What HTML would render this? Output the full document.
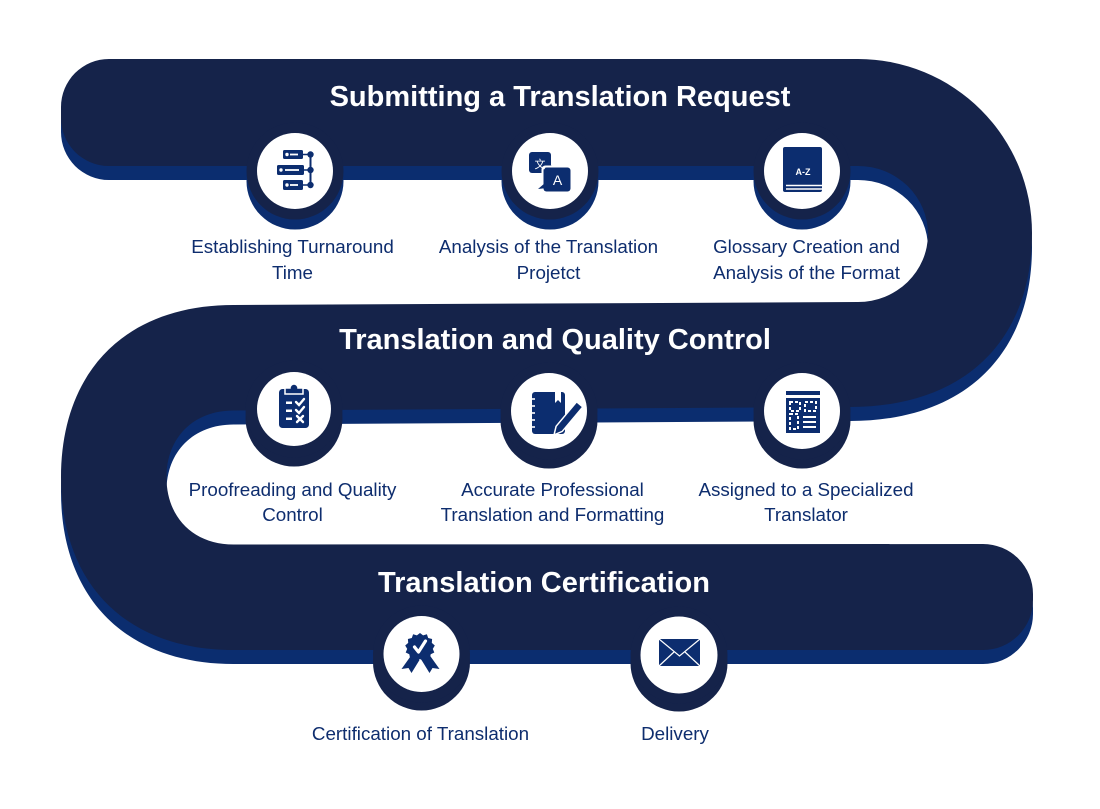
<!DOCTYPE html>
<html>
<head>
<meta charset="utf-8">
<style>
html,body{margin:0;padding:0;background:#fff;}
svg{display:block;}
</style>
</head>
<body>
<svg width="1100" height="809" viewBox="0 0 1100 809" xmlns="http://www.w3.org/2000/svg">
<rect width="1100" height="809" fill="#ffffff"/>

<!-- serpentine band: shadow then main -->
<g>
<path transform="translate(0,14)" fill="#0b2d6f" d="M109 59 L858 59 A174 174 0 0 1 1032 233 C1032 340 965 407 850 407 L233.5 410.5 C193.5 410.5 166.5 437.5 166.5 477.5 C166.5 517.5 193.5 544.5 233.5 544.5 L983 544 A50 50 0 0 1 1033 594 L1033 600 A50 50 0 0 1 983 650 L233.5 650 C126.5 650 61 584.5 61 477.5 C61 370.5 126.5 305 233.5 305 L858 302 A70 68 0 0 0 928 234 A70 68 0 0 0 858 166 L109 166 A48 48 0 0 1 61 118 L61 107 A48 48 0 0 1 109 59 Z"/>
<path fill="#15234a" d="M109 59 L858 59 A174 174 0 0 1 1032 233 C1032 340 965 407 850 407 L233.5 410.5 C193.5 410.5 166.5 437.5 166.5 477.5 C166.5 517.5 193.5 544.5 233.5 544.5 L983 544 A50 50 0 0 1 1033 594 L1033 600 A50 50 0 0 1 983 650 L233.5 650 C126.5 650 61 584.5 61 477.5 C61 370.5 126.5 305 233.5 305 L858 302 A70 68 0 0 0 928 234 A70 68 0 0 0 858 166 L109 166 A48 48 0 0 1 61 118 L61 107 A48 48 0 0 1 109 59 Z"/>
</g>

<!-- Titles -->
<g font-family="Liberation Sans, Arial, sans-serif" font-weight="bold" font-size="29" fill="#ffffff" text-anchor="middle">
<text x="560" y="106">Submitting a Translation Request</text>
<text x="555" y="349">Translation and Quality Control</text>
<text x="544" y="592">Translation Certification</text>
</g>

<!-- Row 1 circles -->
<g>
<circle cx="295" cy="181" r="48.5" fill="#0b2d6f"/>
<circle cx="295" cy="171" r="48.5" fill="#15234a"/>
<circle cx="295" cy="171" r="38" fill="#ffffff"/>
<circle cx="550" cy="181" r="48.5" fill="#0b2d6f"/>
<circle cx="550" cy="171" r="48.5" fill="#15234a"/>
<circle cx="550" cy="171" r="38" fill="#ffffff"/>
<circle cx="802" cy="181" r="48.5" fill="#0b2d6f"/>
<circle cx="802" cy="171" r="48.5" fill="#15234a"/>
<circle cx="802" cy="171" r="38" fill="#ffffff"/>
</g>
<!-- Row 2 circles -->
<g>
<circle cx="294" cy="418" r="48.5" fill="#15234a"/>
<circle cx="294" cy="409" r="48.5" fill="#15234a"/>
<circle cx="294" cy="409" r="37" fill="#ffffff"/>
<circle cx="549" cy="420" r="48.5" fill="#15234a"/>
<circle cx="549" cy="411" r="48.5" fill="#15234a"/>
<circle cx="549" cy="411" r="38" fill="#ffffff"/>
<circle cx="802" cy="420" r="48.5" fill="#15234a"/>
<circle cx="802" cy="411" r="48.5" fill="#15234a"/>
<circle cx="802" cy="411" r="38" fill="#ffffff"/>
</g>
<!-- Row 3 circles -->
<g>
<circle cx="421.5" cy="662" r="48.5" fill="#15234a"/>
<circle cx="421.5" cy="654" r="48.5" fill="#15234a"/>
<circle cx="421.5" cy="654" r="38" fill="#ffffff"/>
<circle cx="679" cy="663" r="48.5" fill="#15234a"/>
<circle cx="679" cy="655" r="48.5" fill="#15234a"/>
<circle cx="679" cy="655" r="38.5" fill="#ffffff"/>
</g>

<!-- Icon 1: server/timeline -->
<g transform="translate(295,171)" fill="#0c2d6f">
<rect x="-12" y="-21" width="20" height="9" rx="1.5"/>
<rect x="-18" y="-6" width="27" height="10" rx="1.5"/>
<rect x="-12" y="9" width="20" height="10" rx="1.5"/>
<line x1="15.5" y1="-16" x2="15.5" y2="14" stroke="#0c2d6f" stroke-width="2"/>
<line x1="8" y1="-16.5" x2="15.5" y2="-16.5" stroke="#0c2d6f" stroke-width="1.5"/>
<line x1="9" y1="-1" x2="15.5" y2="-1" stroke="#0c2d6f" stroke-width="1.5"/>
<line x1="8" y1="14" x2="15.5" y2="14" stroke="#0c2d6f" stroke-width="1.5"/>
<circle cx="15.5" cy="-16.5" r="3.2"/>
<circle cx="15.5" cy="-1" r="3.2"/>
<circle cx="15.5" cy="14" r="3.2"/>
<g fill="#ffffff" stroke="#ffffff" stroke-width="1.8">
<circle cx="-8" cy="-16.5" r="0.8"/>
<line x1="-5" y1="-16.5" x2="3" y2="-16.5"/>
<circle cx="-14" cy="-1" r="0.8"/>
<line x1="-10" y1="-1" x2="4" y2="-1"/>
<circle cx="-8" cy="14" r="0.8"/>
<line x1="-5" y1="14" x2="3" y2="14"/>
</g>
</g>

<!-- Icon 2: translate bubbles -->
<g transform="translate(550,171)" fill="#0c2d6f">
<rect x="-21" y="-19" width="22" height="21" rx="3"/>
<path d="M-1 -7 L6 -3 L-1 0 Z"/>
<rect x="-8.5" y="-5.5" width="31" height="28" rx="4" fill="#ffffff"/>
<rect x="-6.5" y="-3.5" width="27" height="24" rx="3"/>
<path d="M-5 12 L-12 18 L-3 17 Z"/>
<text x="-10" y="-3" font-family="Noto Sans CJK SC, WenQuanYi Zen Hei, sans-serif" font-size="11" fill="#ffffff" text-anchor="middle">文</text>
<text x="7.5" y="14" font-family="Liberation Sans, Arial, sans-serif" font-size="14" fill="#ffffff" text-anchor="middle">A</text>
</g>

<!-- Icon 3: book A-Z -->
<g transform="translate(802,171)" fill="#0c2d6f">
<rect x="-19" y="-24" width="39" height="45" rx="2"/>
<line x1="-16" y1="14.5" x2="20" y2="14.5" stroke="#ffffff" stroke-width="1.4"/>
<line x1="-16" y1="18" x2="20" y2="18" stroke="#ffffff" stroke-width="1.4"/>
<text x="1" y="4" font-family="Liberation Sans, Arial, sans-serif" font-size="9" font-weight="bold" fill="#ffffff" text-anchor="middle">A-Z</text>
</g>

<!-- Icon 4: clipboard -->
<g transform="translate(294,409)" fill="#0c2d6f">
<rect x="-15" y="-20" width="30" height="39" rx="3.5"/>
<path d="M-9 -15 L-9 -21 L-4 -21 A4 4 0 0 1 4 -21 L9 -21 L9 -15 Z" stroke="#ffffff" stroke-width="1.5"/>
<g fill="#ffffff">
<rect x="-8" y="-7.5" width="6" height="2.5"/>
<rect x="-8" y="0.5" width="6" height="2.5"/>
<rect x="-8" y="8.5" width="6" height="2.5"/>
</g>
<g stroke="#ffffff" stroke-width="2.4" fill="none" stroke-linecap="round">
<polyline points="2,-7 5,-4 10,-10"/>
<polyline points="2,1 5,4 10,-2"/>
<line x1="3" y1="7" x2="9" y2="13"/>
<line x1="9" y1="7" x2="3" y2="13"/>
</g>
</g>

<!-- Icon 5: notebook + pen -->
<g transform="translate(549,411)" fill="#0c2d6f">
<rect x="-17" y="-19" width="33" height="42" rx="3"/>
<g stroke="#ffffff" stroke-width="1.6">
<line x1="-19" y1="-12" x2="-14" y2="-12"/>
<line x1="-19" y1="-5" x2="-14" y2="-5"/>
<line x1="-19" y1="2" x2="-14" y2="2"/>
<line x1="-19" y1="9" x2="-14" y2="9"/>
<line x1="-19" y1="16" x2="-14" y2="16"/>
</g>
<path d="M6 -19 L12 -19 L12 -8 L9 -11 L6 -8 Z" fill="#ffffff"/>
<g transform="translate(5,24) rotate(-50)">
<path d="M0 0 L8 -4 L40 -4 L40 4 L8 4 Z" fill="#0c2d6f" stroke="#ffffff" stroke-width="1.5"/>
</g>
</g>

<!-- Icon 6: calculator/document -->
<g transform="translate(802,411)" fill="#0c2d6f">
<rect x="-16" y="-20" width="34" height="4"/>
<rect x="-16" y="-13" width="34" height="35"/>
<g fill="none" stroke="#ffffff" stroke-width="2" stroke-dasharray="3 2">
<rect x="-12" y="-9" width="10" height="9"/>
<rect x="3" y="-9" width="11" height="9"/>
<rect x="-12" y="3" width="8" height="15"/>
</g>
<g stroke="#ffffff" stroke-width="2">
<line x1="1" y1="6" x2="14" y2="6"/>
<line x1="1" y1="11" x2="14" y2="11"/>
<line x1="1" y1="16" x2="14" y2="16"/>
</g>
</g>

<!-- Icon 7: certificate badge -->
<g transform="translate(421.5,654)" fill="#0c2d6f">
<polygon points="-10,1 -20,15 -13,14 -10,19 -2,6"/>
<polygon points="8,1 18,15 11,14 8,19 0,6"/>
<polygon points="-1.5,-21 1.6,-18.6 5.4,-19.7 6.7,-16 10.6,-15 10.3,-11.1 13.3,-8.5 11.3,-5.1 12.8,-1.5 9.2,0.3 8.4,4.2 4.4,4 2,7.1 -1.5,5 -5,7.1 -7.4,4 -11.4,4.2 -12.2,0.3 -15.8,-1.5 -14.3,-5.1 -16.3,-8.5 -13.3,-11.1 -13.6,-15 -9.7,-16 -8.4,-19.7 -4.6,-18.6"/>
<path d="M-7 -7 L-3 -2 L4 -13" fill="none" stroke="#ffffff" stroke-width="3.2" stroke-linecap="round" stroke-linejoin="round"/>
</g>

<!-- Icon 8: envelope -->
<g transform="translate(679,655)" fill="#0c2d6f">
<rect x="-20" y="-16" width="41" height="27" rx="1.5"/>
<g stroke="#ffffff" stroke-width="1.2" fill="none">
<polyline points="-20,-16 0.5,1 21,-16"/>
<line x1="-20" y1="11" x2="-5" y2="-3"/>
<line x1="21" y1="11" x2="6" y2="-3"/>
</g>
</g>

<!-- Labels -->
<g font-family="Liberation Sans, Arial, sans-serif" font-size="18.8" fill="#0e2d6e" text-anchor="middle">
<text x="292.5" y="253">Establishing Turnaround</text>
<text x="292.5" y="279">Time</text>
<text x="548.5" y="253">Analysis of the Translation</text>
<text x="548.5" y="279">Projetct</text>
<text x="806.5" y="253">Glossary Creation and</text>
<text x="806.5" y="279">Analysis of the Format</text>

<text x="292.5" y="496">Proofreading and Quality</text>
<text x="292.5" y="521">Control</text>
<text x="552.5" y="496">Accurate Professional</text>
<text x="552.5" y="521">Translation and Formatting</text>
<text x="806" y="496">Assigned to a Specialized</text>
<text x="806" y="521">Translator</text>

<text x="420.5" y="740">Certification of Translation</text>
<text x="675" y="740">Delivery</text>
</g>
</svg>
</body>
</html>
